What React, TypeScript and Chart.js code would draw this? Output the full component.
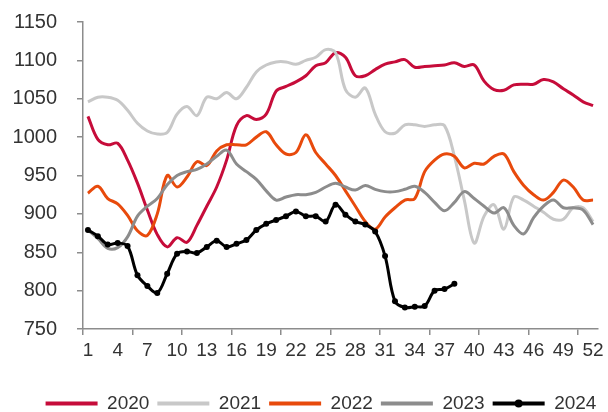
import React, { useEffect, useRef } from 'react';
import { Chart, registerables } from 'chart.js';

Chart.register(...registerables);

const weeks = ['1','2','3','4','5','6','7','8','9','10','11','12','13','14','15','16','17','18','19','20','21','22','23','24','25','26','27','28','29','30','31','32','33','34','35','36','37','38','39','40','41','42','43','44','45','46','47','48','49','50','51','52'];

const yTicks = [750, 800, 850, 900, 950, 1000, 1050, 1100, 1150];

const s2020 = [1027,997,990,992,970,940,905,873,857,869,863,885,910,935,970,1015,1028,1023,1030,1060,1066,1072,1080,1093,1097,1110,1104,1080,1080,1088,1095,1098,1101,1091,1092,1093,1094,1097,1092,1094,1073,1062,1061,1068,1069,1069,1075,1072,1063,1055,1046,1041];

const s2021 = [1046,1052,1052,1048,1035,1018,1008,1004,1006,1030,1040,1028,1052,1050,1058,1050,1065,1085,1094,1098,1098,1095,1100,1104,1114,1110,1062,1052,1064,1030,1007,1005,1016,1016,1014,1016,1015,975,918,862,897,912,880,922,918,910,902,893,893,908,908,890];

const s2022 = [927,936,920,913,898,878,872,900,950,935,948,968,963,982,990,990,990,1000,1007,990,978,980,1003,980,965,950,930,910,890,880,896,908,918,920,955,970,978,975,960,966,965,975,978,955,937,925,918,928,944,935,918,918];

const s2023 = [879,868,855,856,870,897,910,920,938,950,955,958,965,975,983,965,955,945,930,918,922,925,925,928,935,940,935,931,937,932,929,929,932,936,928,915,904,915,929,920,910,901,908,885,874,895,910,918,908,908,905,886];

const s2024 = [879,871,860,862,858,820,806,797,822,848,851,849,857,865,857,861,866,879,887,892,897,903,897,897,890,912,899,890,886,877,845,786,778,779,780,800,802,809];

const seriesNames = ['2020', '2021', '2022', '2023', '2024'];
const seriesColors = ['#C60C3A', '#C8C8C8', '#E84A0C', '#8C8C8C', '#000000'];

const LEGEND_SHIFT = 22;

const legendShift = {
  id: 'legendShift',
  afterLayout(chart: any) {
    const lg = chart.legend;
    if (!lg) return;
    lg.left += LEGEND_SHIFT;
    lg.right += LEGEND_SHIFT;
  },
};

const legendDot = {
  id: 'legendDot',
  afterDraw(chart: any) {
    const legend = chart.legend;
    if (!legend || !legend.legendHitBoxes) return;
    const ctx = chart.ctx;
    const boxWidth = legend.options.labels.boxWidth;
    const fs = legend.options.labels.font.size;
    legend.legendItems.forEach((item: any, i: number) => {
      const ds = chart.data.datasets[item.datasetIndex];
      if (!ds.pointRadius) return;
      const hb = legend.legendHitBoxes[i];
      ctx.save();
      ctx.fillStyle = ds.borderColor;
      ctx.beginPath();
      ctx.arc(hb.left + boxWidth / 2, hb.top + fs / 2, 4, 0, Math.PI * 2);
      ctx.fill();
      ctx.restore();
    });
  },
};

export default function App() {
  const ref = useRef<HTMLCanvasElement | null>(null);

  useEffect(() => {
    document.body.style.margin = '0';
    const canvas = ref.current;
    if (!canvas) return;
    const all = [s2020, s2021, s2022, s2023, s2024];
    const datasets = all.map((d, i) => ({
      label: seriesNames[i],
      data: d,
      borderColor: seriesColors[i],
      backgroundColor: seriesColors[i],
      borderWidth: 3,
      tension: 0.35,
      pointRadius: i === 4 ? 3 : 0,
      pointHoverRadius: i === 4 ? 3 : 0,
      pointBackgroundColor: seriesColors[i],
      pointBorderWidth: 0,
      order: 4 - i,
      fill: false,
    }));
    const chart = new Chart(canvas, {
      type: 'line',
      data: { labels: weeks, datasets },
      options: {
        animation: false,
        responsive: false,
        maintainAspectRatio: false,
        layout: { padding: { left: 0, right: 10, top: 22, bottom: -11 } },
        plugins: {
          tooltip: { enabled: false },
          legend: {
            position: 'bottom',
            align: 'center',
            labels: {
              boxWidth: 52,
              boxHeight: 4,
              padding: 8,
              color: '#333',
              font: { family: "'Liberation Sans', Arial, sans-serif", size: 19 },
              sort: (a: any, b: any) => a.datasetIndex - b.datasetIndex,
              generateLabels: (c: any) =>
                Chart.defaults.plugins.legend.labels.generateLabels(c).map((l: any) => ({ ...l, lineWidth: 0 })),
            },
          },
        },
        scales: {
          x: {
            type: 'category',
            offset: true,
            afterFit: (s: any) => { s.height = 57; },
            border: { color: '#8c8c8c', width: 1.5 },
            grid: {
              offset: true,
              drawOnChartArea: false,
              drawTicks: true,
              tickLength: 6,
              color: (c: any) => (c.index % 5 === 0 ? '#8c8c8c' : 'rgba(0,0,0,0)'),
              lineWidth: 1.5,
            },
            ticks: {
              autoSkip: false,
              maxRotation: 0,
              minRotation: 0,
              padding: 4,
              color: '#333',
              font: { family: "'Liberation Sans', Arial, sans-serif", size: 19 },
              callback: (_v: any, idx: number) => (idx % 3 === 0 ? weeks[idx] : ''),
            },
          },
          y: {
            min: yTicks[0],
            max: yTicks[yTicks.length - 1],
            afterFit: (s: any) => {
              s.width = 83;
              s.paddingTop = 12;
              s.paddingBottom = 12;
            },
            afterBuildTicks: (s: any) => { s.ticks = yTicks.map((v) => ({ value: v })); },
            border: { color: '#8c8c8c', width: 1.5 },
            grid: {
              drawOnChartArea: false,
              drawTicks: true,
              tickLength: 6,
              color: '#8c8c8c',
              lineWidth: 1.5,
            },
            ticks: {
              padding: 20,
              color: '#333',
              font: { family: "'Liberation Sans', Arial, sans-serif", size: 20 },
              callback: (v: any) => String(v),
            },
          },
        },
      },
      plugins: [legendShift, legendDot],
    });
    return () => chart.destroy();
  }, []);

  return (
    <div style={{ width: 608, height: 412, position: 'relative' }}>
      <canvas ref={ref} width={608} height={412} style={{ display: 'block', width: 608, height: 412 }} />
    </div>
  );
}
